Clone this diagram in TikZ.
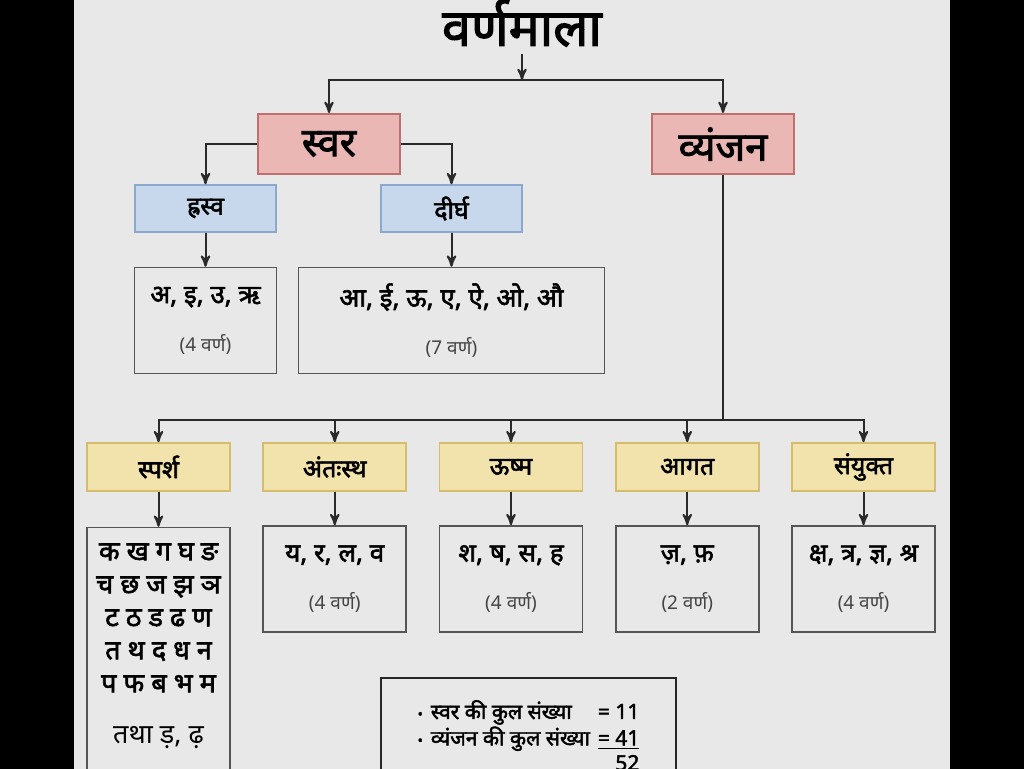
\documentclass[tikz,border=0pt]{standalone}
\usepackage{fontspec}
\setmainfont{Noto Sans}[Script=Devanagari,BoldFont={Noto Sans},BoldFeatures={FakeBold=2.2}]
\usetikzlibrary{arrows,positioning}

\definecolor{bggray}{HTML}{E8E8E8}
\definecolor{swarfill}{HTML}{EBB7B5}
\definecolor{swarline}{HTML}{C0706C}
\definecolor{bhedfill}{HTML}{C7D7EC}
\definecolor{bhedline}{HTML}{8DA8CE}
\definecolor{pilafill}{HTML}{F2E2AC}
\definecolor{pilaline}{HTML}{D6BD6E}
\definecolor{boxline}{HTML}{555555}
\definecolor{lineclr}{HTML}{2A2A2A}
\definecolor{subtext}{HTML}{444444}

\newcommand{\varnsankhya}[1]{\\[8pt]{\mdseries\fontsize{9.5}{11}\selectfont\color{subtext}(#1 वर्ण)}}
\newcommand{\dotitem}{{\fontsize{7}{7}\selectfont •}\hspace{4pt}}

\begin{document}
\begin{tikzpicture}[x=1pt,y=1pt,node distance=56pt,
mainbox/.style={
rectangle,
draw=swarline,
fill=swarfill,
line width=1pt,
minimum width=71pt,
minimum height=30pt,
font=\bfseries\fontsize{20}{24}\selectfont
},
bhed/.style={
rectangle,
draw=bhedline,
fill=bhedfill,
line width=0.8pt,
minimum width=70.5pt,
minimum height=23.5pt,
font=\bfseries\fontsize{12.5}{15}\selectfont
},
vyanbhed/.style={bhed,draw=pilaline,fill=pilafill,minimum width=71.5pt,minimum height=24pt},
varnbox/.style={
rectangle,
draw=boxline,
line width=0.8pt,
minimum width=71pt,
minimum height=53pt,
align=center,
font=\bfseries\fontsize{13}{16}\selectfont
},
link/.style={->,>=stealth',line width=1pt,draw=lineclr},
wire/.style={line width=1pt,draw=lineclr}]

\useasboundingbox (0,0) rectangle (512,-384.5);
\fill[black] (0,0) rectangle (512,-384.5);
\fill[bggray] (37,0) rectangle (475,-384.5);

\node (title) at (261,-11.5) [font=\bfseries\fontsize{26}{30}\selectfont] {वर्णमाला};
\coordinate (top) at (261,-40);
\node (swar) at (164.5,-72) [mainbox] {स्वर};
\node (vyanjan) [mainbox,right of=swar,node distance=197pt] {व्यंजन};

\node (hrasva) at (102.75,-104.25) [bhed] {ह्रस्व};
\node (dirgha) [bhed,right of=hrasva,node distance=123pt] {दीर्घ};
\node (hrasvalist) [varnbox,below of=hrasva] {अ, इ, उ, ऋ\varnsankhya{4}};
\node (dirghalist) [varnbox,below of=dirgha,minimum width=153pt] {आ, ई, ऊ, ए, ऐ, ओ, औ\varnsankhya{7}};

% vyanjan ke bhed
\coordinate (bus) at (361.5,-210);
\node (sparsha) at (79.25,-233.5) [vyanbhed] {स्पर्श};
\node (antahstha) [vyanbhed,right of=sparsha,node distance=88.125pt] {अंतःस्थ};
\node (ushma) [vyanbhed,right of=antahstha,node distance=88.125pt] {ऊष्म};
\node (agat) [vyanbhed,right of=ushma,node distance=88.125pt] {आगत};
\node (sanyukt) [vyanbhed,right of=agat,node distance=88.125pt] {संयुक्त};

\node (sparshalist) [varnbox,below=17.5pt of sparsha,minimum width=71.5pt,text depth=70pt,
font=\bfseries\fontsize{13.5}{16.5}\selectfont]
{\rule{0pt}{13pt}क ख ग घ ङ\\च छ ज झ ञ\\ट ठ ड ढ ण\\त थ द ध न\\प फ ब भ म\\[9pt]{\mdseries तथा ड़, ढ़}};
\node (antahsthalist) [varnbox,below of=antahstha,minimum width=71.5pt] {य, र, ल, व\varnsankhya{4}};
\node (ushmalist) [varnbox,below of=ushma,minimum width=71.5pt] {श, ष, स, ह\varnsankhya{4}};
\node (agatlist) [varnbox,below of=agat,minimum width=71.5pt] {ज़, फ़\varnsankhya{2}};
\node (sanyuktlist) [varnbox,below of=sanyukt,minimum width=71.5pt] {क्ष, त्र, ज्ञ, श्र\varnsankhya{4}};

\node (kul) at (264.25,-369.5) [varnbox,draw=black!85,line width=1pt,minimum width=147.5pt,minimum height=61pt,
font=\bfseries\fontsize{10.5}{12.5}\selectfont]
{\begin{tabular}{@{}l@{\hspace{4pt}}r@{}}
\dotitem स्वर की कुल संख्या & = 11\\
\dotitem व्यंजन की कुल संख्या & \underline{= 41}\\
 & 52
\end{tabular}};

\draw[link] (title) -- (top);
\draw[link] (top) -| (swar);
\draw[link] (top) -| (vyanjan);
\draw[link] (swar) -| (hrasva);
\draw[link] (swar) -| (dirgha);
\draw[link] (hrasva) -- (hrasvalist);
\draw[link] (dirgha) -- (dirghalist);

\draw[wire] (vyanjan) -- (bus);
\draw[link] (bus) -| (sparsha);
\draw[link] (bus) -| (antahstha);
\draw[link] (bus) -| (ushma);
\draw[link] (bus) -| (agat);
\draw[link] (bus) -| (sanyukt);
\draw[link] (sparsha) -- (sparshalist);
\draw[link] (antahstha) -- (antahsthalist);
\draw[link] (ushma) -- (ushmalist);
\draw[link] (agat) -- (agatlist);
\draw[link] (sanyukt) -- (sanyuktlist);
\end{tikzpicture}
\end{document}
